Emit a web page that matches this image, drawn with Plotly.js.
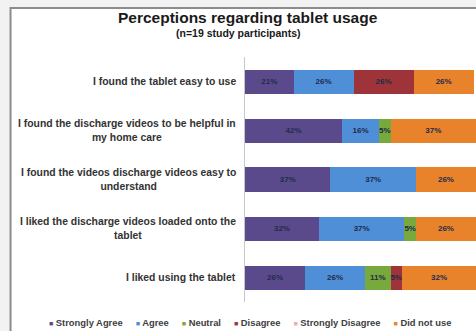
<!DOCTYPE html>
<html><head><meta charset="utf-8">
<script src="https://cdn.plot.ly/plotly-3.0.1.min.js"></script>
<style>html,body{margin:0;padding:0;background:#fff}</style>
</head><body><div id="chart" style="width:476px;height:331px"></div>
<script>
var categories = [
  "I found the tablet easy to use",
  "I found the discharge videos to be helpful in<br>my home care",
  "I found the videos discharge videos easy to<br>understand",
  "I liked the discharge videos loaded onto the<br>tablet",
  "I liked using the tablet"
];
var seriesNames = ["Strongly Agree", "Agree", "Neutral", "Disagree", "Strongly Disagree", "Did not use"];
var stronglyAgree    = [21, 42, 37, 32, 26];
var agree            = [26, 16, 37, 37, 26];
var neutral          = [0, 5, 0, 5, 11];
var disagree         = [26, 0, 0, 0, 5];
var stronglyDisagree = [0, 0, 0, 0, 0];
var didNotUse        = [26, 37, 26, 26, 32];
var colors = ["#5b4a8b", "#4f8fd8", "#78a93c", "#9e3439", "#f2a7b9", "#e8832c"];

var seriesValues = [stronglyAgree, agree, neutral, disagree, stronglyDisagree, didNotUse];
var FONT = "Liberation Sans, Arial, sans-serif";

var traces = seriesValues.map(function (vals, i) {
  return {
    type: "bar", orientation: "h",
    name: seriesNames[i],
    y: categories, x: vals,
    marker: {color: colors[i]},
    text: vals.map(function (v) { return v > 0 ? v + "%" : ""; }),
    textposition: "inside", insidetextanchor: "middle",
    textangle: 0, constraintext: "none",
    textfont: {family: FONT, size: 8, color: "#1f2a4a", weight: "bold"},
    hoverinfo: "skip"
  };
});

var annotations = [];
annotations.push({xref: "paper", yref: "paper", x: 0.013, y: 1.163, xanchor: "center", yanchor: "middle",
  text: "<b>Perceptions regarding tablet usage</b>", showarrow: false,
  font: {family: FONT, size: 15.5, color: "#1a1a1a"}});
annotations.push({xref: "paper", yref: "paper", x: -0.03, y: 1.097, xanchor: "center", yanchor: "middle",
  text: "<b>(n=19 study participants)</b>", showarrow: false,
  font: {family: FONT, size: 10.5, color: "#1a1a1a"}});
categories.forEach(function (c) {
  annotations.push({xref: "paper", yref: "y", x: 0, y: c, xanchor: "right", yanchor: "middle",
    xshift: -7, align: "center", text: "<b>" + c + "</b>", showarrow: false,
    font: {family: FONT, size: 10.4, color: "#333333"}});
});
var legendText = seriesNames.map(function (n, i) {
  return '<span style="color:' + colors[i] + ';font-size:7px">■</span> ' + n;
}).join("&nbsp;&nbsp;&nbsp;&nbsp;&nbsp;");
annotations.push({xref: "paper", yref: "paper", x: 0.022, y: -0.082, xanchor: "center", yanchor: "middle",
  text: "<b>" + legendText + "</b>", showarrow: false,
  font: {family: FONT, size: 9.4, color: "#404040"}});

var layout = {
  width: 476, height: 331,
  margin: {l: 245, r: 0, t: 57, b: 29, pad: 0},
  barmode: "stack", bargap: 0.51,
  showlegend: false,
  paper_bgcolor: "#f2f2f2", plot_bgcolor: "rgba(0,0,0,0)",
  xaxis: {range: [0, 100], showgrid: false, zeroline: false, showticklabels: false, showline: false, fixedrange: true},
  yaxis: {autorange: "reversed", showticklabels: false, showgrid: false, zeroline: false,
          showline: true, linecolor: "#c8c8c8", linewidth: 1, ticks: "", fixedrange: true},
  shapes: [{type: "rect", layer: "below", xref: "paper", yref: "paper",
            x0: -1.015, x1: 1.1, y0: -0.2, y1: 1.2,
            fillcolor: "#ffffff", line: {color: "#8c8c8c", width: 2}}],
  annotations: annotations,
  font: {family: FONT}
};
Plotly.newPlot("chart", traces, layout, {displayModeBar: false, staticPlot: true});
</script></body></html>
